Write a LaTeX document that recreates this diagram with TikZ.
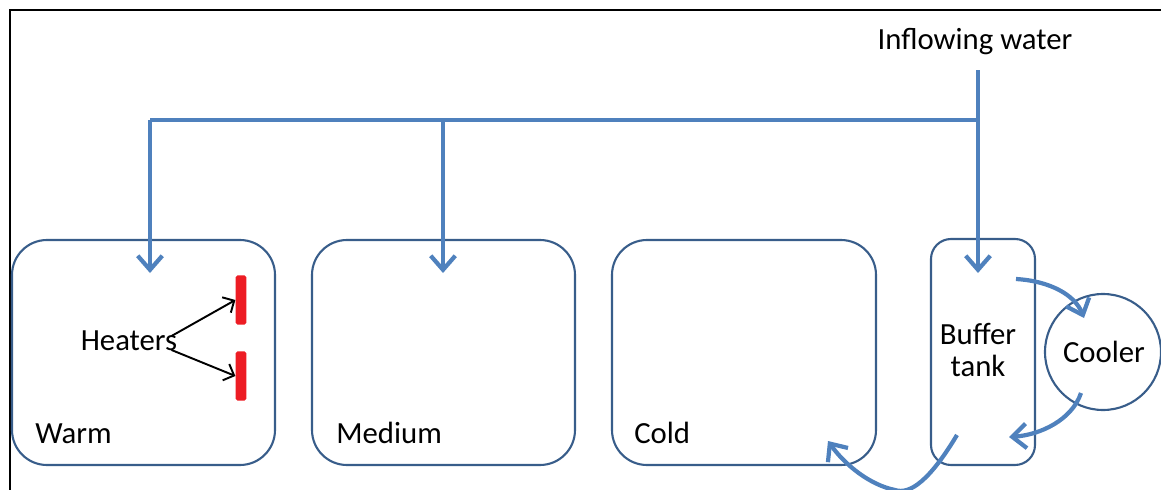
\documentclass[tikz,border=0pt]{standalone}
\usepackage{fontspec}
\setmainfont{Carlito}
\usetikzlibrary{arrows.meta}
\definecolor{pipe}{RGB}{79,129,189}
\definecolor{boxline}{RGB}{56,93,138}
\definecolor{heat}{RGB}{237,28,36}
\begin{document}
\begin{tikzpicture}[x=0.02cm,y=-0.02cm,
  tank/.style={draw=boxline,line width=1.2pt,rounded corners=0.7cm},
  pipeline/.style={draw=pipe,line width=2.4pt},
  flow/.style={pipeline,-{Straight Barb[length=8pt,width=14pt,line width=2.4pt]}},
  lbl/.style={font=\fontsize{17.5}{18}\selectfont,inner sep=0pt},
  heater/.style={fill=heat,rounded corners=1pt,inner sep=0pt,minimum width=6pt,minimum height=28pt},
  pointer/.style={draw=black,line width=1.1pt,-{Straight Barb[length=5pt,width=10pt,line width=1.1pt]}}]
\useasboundingbox (0,0) rectangle (1161,490);
\begin{scope}
\clip (0,0) rectangle (1161,490);
\draw[line width=1.6pt] (10,490) -- (10,10) -- (1161,10);
% tanks
\node[tank,minimum width=263*0.02cm,minimum height=225*0.02cm] (warm) at (143.5,352.5) {};
\node[tank,minimum width=263*0.02cm,minimum height=225*0.02cm] (medium) at (443.5,352.5) {};
\node[tank,minimum width=264*0.02cm,minimum height=225*0.02cm] (cold) at (744,352.5) {};
\node[tank,rounded corners=0.4cm,minimum width=104*0.02cm,minimum height=226*0.02cm] (buffer) at (983,352) {};
\node[draw=boxline,line width=1.2pt,circle,minimum size=116*0.02cm] (cooler) at (1103,352) {};
% labels
\node[lbl,anchor=base west] (warmlbl) at (35,443) {Warm};
\node[lbl,anchor=base west] (mediumlbl) at (336,443) {Medium};
\node[lbl,anchor=base west] (coldlbl) at (634,443) {Cold};
\node[lbl] (inflow) at (975,42) {Inflowing water};
\node[lbl,align=center,font=\fontsize{17.5}{18}\selectfont] (bufferlbl) at (978,350) {Buffer\\tank};
\node[lbl] (coolerlbl) at (1104,352) {Cooler};
\node[lbl] (heaters) at (129,341) {Heaters};
% heaters
\node[heater] (h1) at (241,300) {};
\node[heater] (h2) at (241,376) {};
\draw[pointer] (heaters.east) ++(-6,-5) -- (h1.west);
\draw[pointer] (heaters.east) ++(-6,9) -- (h2.west);
% pipes
\coordinate (src) at (978,70);
\coordinate (jb) at (978,120);
\coordinate (jm) at (443,120);
\coordinate (jw) at (150,120);
\coordinate (inb) at (978,273);
\coordinate (inm) at (443,273);
\coordinate (inw) at (150,273);
\draw[pipeline] (src) -- (jb) -- (jw);
\draw[flow] (jb) -- (inb);
\draw[flow] (jm) -- (inm);
\draw[flow] (jw) -- (inw);
% circulation
\coordinate (b1) at (1016,279);
\coordinate (c1) at (1084,318);
\coordinate (c2) at (1081,393);
\coordinate (b2) at (1009,437);
\coordinate (b3) at (957,435);
\coordinate (d1) at (828,441);
\draw[flow] (b1) .. controls (1050,281) and (1075,295) .. (c1);
\draw[flow] (c2) .. controls (1072,420) and (1040,435) .. (b2);
\draw[flow] (b3) .. controls (930,480) and (910,495) .. (895,490) .. controls (870,485) and (845,465) .. (d1);
\end{scope}
\end{tikzpicture}
\end{document}
